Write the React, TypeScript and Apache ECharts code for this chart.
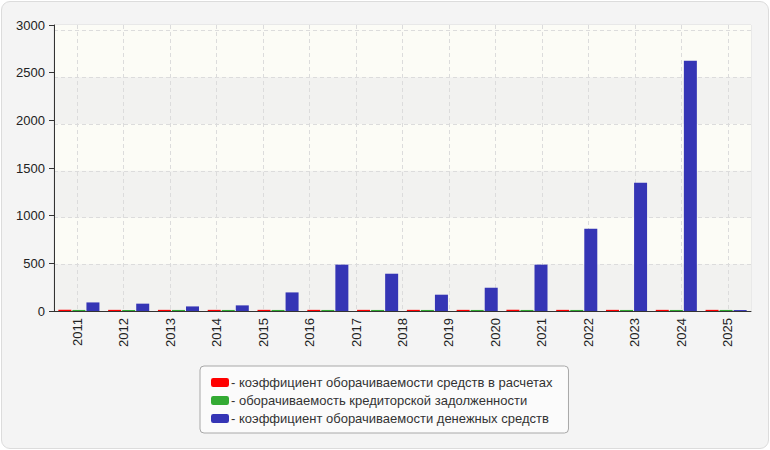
import React, { useEffect, useRef } from "react";
import * as echarts from "echarts";

const yearLabels = ["2011", "2012", "2013", "2014", "2015", "2016", "2017", "2018", "2019", "2020", "2021", "2022", "2023", "2024", "2025"];
const barGroups = ["1", "2", "3", "4", "5", "6", "7", "8", "9", "10", "11", "12", "13", "14"];
const seriesNames = [
  "коэффициент оборачиваемости средств в расчетах",
  "оборачиваемость кредиторской задолженности",
  "коэффициент оборачиваемости денежных средств",
];
const settlementsTurnover = [12, 12, 12, 12, 12, 12, 12, 12, 12, 12, 12, 12, 12, 12];
const payablesTurnover = [11, 11, 11, 11, 11, 11, 11, 11, 11, 11, 11, 11, 11, 11];
const cashTurnover = [90, 77, 48, 59, 195, 486, 391, 171, 244, 486, 863, 1346, 2626, 10];
const yTicks = [0, 500, 1000, 1500, 2000, 2500, 3000];
const colors = ["#ff0000", "#33aa33", "#3535b5"];

const FONT = "'Liberation Sans', Arial, sans-serif";
const HATCH = "#f2f2f0";
const CREAM = "#fcfcf6";

export default function App() {
  const ref = useRef<HTMLDivElement>(null);
  useEffect(() => {
    document.body.style.margin = "0";
    const chart = echarts.init(ref.current!, null, { renderer: "svg" });
    const values = [settlementsTurnover, payablesTurnover, cashTurnover];
    chart.setOption({
      animation: false,
      textStyle: { fontFamily: FONT },
      grid: {
        left: 54,
        right: 19,
        top: 25,
        bottom: 139,
        show: true,
        borderColor: "#dddddd",
        borderWidth: 1,
        backgroundColor: "transparent",
      },
      legend: {
        orient: "vertical",
        left: 200,
        top: 366,
        padding: [10, 16, 8, 11],
        itemWidth: 18,
        itemHeight: 9,
        itemGap: 5,
        backgroundColor: "#fbfbfb",
        borderColor: "#a8a8a8",
        borderWidth: 1,
        borderRadius: 4,
        icon: "roundRect",
        formatter: (n: string) => "- " + n,
        textStyle: { fontSize: 13, color: "#333", fontFamily: FONT, padding: [0, 0, 0, -3] },
        data: seriesNames,
      },
      xAxis: [
        {
          type: "category",
          data: yearLabels,
          position: "bottom",
          axisLine: { lineStyle: { color: "#333", width: 1 } },
          axisTick: { alignWithLabel: true, length: 5, lineStyle: { color: "#333" } },
          axisLabel: { rotate: 90, fontSize: 13, color: "#222", margin: 7, fontFamily: FONT },
          splitLine: {
            show: true,
            alignWithLabel: true,
            lineStyle: { color: "#dcdcdc", type: [4, 3], width: 1 },
          },
        },
        {
          type: "category",
          data: barGroups,
          show: false,
        },
      ],
      yAxis: [
        {
          type: "value",
          min: 0,
          max: 3000,
          interval: 500,
          position: "left",
          axisLine: { show: true, lineStyle: { color: "#333", width: 1 } },
          axisTick: { show: true, length: 5, lineStyle: { color: "#333" } },
          axisLabel: {
            fontSize: 13,
            color: "#222",
            margin: 9,
            fontFamily: FONT,
            formatter: (v: number) => (yTicks.includes(v) ? String(v) : ""),
          },
          splitLine: { show: false },
          z: 5,
        },
        {
          type: "value",
          min: 0,
          max: 3060,
          interval: 500,
          position: "left",
          axisLine: { show: false },
          axisTick: { show: false },
          axisLabel: { show: false },
          splitLine: {
            show: true,
            showMinLine: false,
            showMaxLine: false,
            lineStyle: {
              color: ["#dcdcdc", "#dcdcdc", "#dcdcdc", "#dcdcdc", "#dcdcdc", "#dcdcdc", "rgba(0,0,0,0)", "rgba(0,0,0,0)"],
              type: [4, 3],
              width: 1,
            },
          },
          splitArea: {
            show: true,
            areaStyle: { color: [HATCH, CREAM, HATCH, CREAM, HATCH, CREAM, CREAM] },
          },
        },
      ],
      series: seriesNames.map((name, i) => ({
        name,
        type: "bar",
        xAxisIndex: 1,
        yAxisIndex: 0,
        data: values[i],
        barWidth: 13,
        barGap: "8%",
        itemStyle: { color: colors[i] },
      })),
    });
    return () => chart.dispose();
  }, []);
  return (
    <div
      style={{
        position: "fixed",
        left: 0,
        top: 0,
        width: 770,
        height: 450,
        background: "#fff",
      }}
    >
      <div
        style={{
          position: "absolute",
          left: 1,
          top: 1,
          width: 766,
          height: 446,
          border: "1px solid #dcdcdc",
          borderRadius: 9,
          background: "#f4f4f4",
        }}
      />
      <div ref={ref} style={{ position: "absolute", left: 0, top: 0, width: 770, height: 450 }} />
    </div>
  );
}
